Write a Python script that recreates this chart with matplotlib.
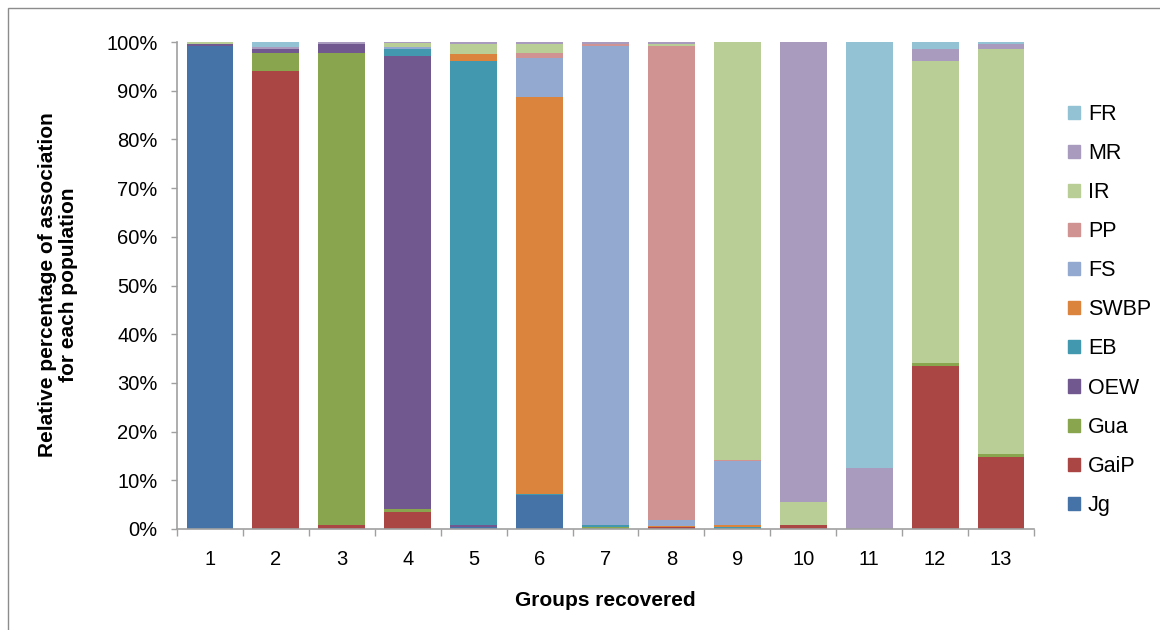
import numpy as np
import matplotlib
matplotlib.use("Agg")
import matplotlib.pyplot as plt
from matplotlib.patches import Rectangle, Patch
from matplotlib.ticker import PercentFormatter

plt.rcParams['font.family'] = ['Liberation Sans', 'DejaVu Sans']

# groups recovered
groups = ['1', '2', '3', '4', '5', '6', '7', '8', '9', '10', '11', '12', '13']

# relative percentage of each population, stacked bottom -> top
Jg   = [99.2, 0, 0, 0, 0.4, 7.0, 0, 0, 0, 0, 0, 0, 0]
GaiP = [0, 94.0, 0.8, 3.5, 0, 0, 0, 0.4, 0, 0.8, 0, 33.5, 14.8]
Gua  = [0, 3.7, 96.9, 0.6, 0, 0, 0.4, 0, 0, 0, 0, 0.5, 0.6]
OEW  = [0.4, 0.8, 1.8, 93.0, 0.4, 0, 0, 0, 0, 0, 0, 0, 0]
EB   = [0, 0, 0, 1.5, 95.3, 0.2, 0.4, 0, 0.4, 0, 0, 0, 0]
SWBP = [0, 0, 0, 0, 1.4, 81.5, 0, 0.2, 0.4, 0, 0, 0, 0]
FS   = [0, 0, 0, 0.3, 0, 8.1, 98.4, 1.2, 13.2, 0, 0, 0, 0]
PP   = [0, 0, 0, 0, 0, 1.0, 0.4, 97.4, 0.2, 0, 0, 0, 0]
IR   = [0.4, 0, 0, 0.8, 2.1, 1.8, 0, 0.4, 85.8, 4.7, 0, 62.1, 83.2]
MR   = [0, 0.4, 0.5, 0.4, 0.4, 0.4, 0.4, 0.4, 0, 94.5, 12.5, 2.5, 1.0]
FR   = [0, 1.0, 0, 0, 0, 0, 0, 0, 0, 0, 87.5, 1.4, 0.4]

names = ['Jg', 'GaiP', 'Gua', 'OEW', 'EB', 'SWBP', 'FS', 'PP', 'IR', 'MR', 'FR']
series = [Jg, GaiP, Gua, OEW, EB, SWBP, FS, PP, IR, MR, FR]
colors = ['#4572A7', '#AA4643', '#89A54E', '#71588F', '#4198AF', '#DB843D',
          '#93A9CF', '#D19392', '#B9CD96', '#A99BBD', '#92C2D3']

W, H = 1160, 630
fig = plt.figure(figsize=(W / 100, H / 100), dpi=100)
ax = fig.add_axes([177 / W, 1 - 529 / H, (1034 - 177) / W, (529 - 42) / H])

x = np.arange(1, len(groups) + 1)
bottom = np.zeros(len(groups))
for name, vals, c in zip(names, series, colors):
    v = np.array(vals, dtype=float)
    ax.bar(x, v, 0.71, bottom=bottom, color=c, linewidth=0, label=name)
    bottom += v

ax.set_xlim(0.5, len(groups) + 0.5)
ax.set_ylim(0, 100)
ax.set_yticks(np.arange(0, 101, 10))
ax.yaxis.set_major_formatter(PercentFormatter(decimals=0))
ax.set_xticks(x)
ax.set_xticklabels(groups)
ax.set_xticks(np.arange(0.5, len(groups) + 1, 1), minor=True)

gray = '#A0A0A0'
for s in ['top', 'right']:
    ax.spines[s].set_visible(False)
for s in ['left', 'bottom']:
    ax.spines[s].set_color(gray)
    ax.spines[s].set_linewidth(1.2)
ax.tick_params(axis='y', direction='out', length=4, width=1, color=gray,
               labelsize=14.5, pad=10)
ax.tick_params(axis='x', which='major', length=0, labelsize=14.5, pad=15)
ax.tick_params(axis='x', which='minor', direction='out', length=5, width=1,
               color=gray)

fig.text(58 / W, 1 - 285 / H, 'Relative percentage of association\nfor each population',
         rotation=90, ha='center', va='center', multialignment='center',
         fontsize=15, fontweight='bold', linespacing=1.1)
fig.text(605 / W, 1 - 601 / H, 'Groups recovered', ha='center', va='center',
         fontsize=15, fontweight='bold')

handles = [Patch(color=c, label=n) for n, c in zip(names, colors)][::-1]
fig.legend(handles=handles, loc='upper left', bbox_to_anchor=(1068 / W, 1 - 104 / H),
           frameon=False, fontsize=15.5, handlelength=0.56, handleheight=0.56,
           handletextpad=0.37, labelspacing=0.84, borderpad=0, borderaxespad=0)

# chart area border
fig.patches.append(Rectangle((8 / W, -0.1), 1.2, 1 - 8 / H + 0.1,
                             transform=fig.transFigure, fill=False,
                             edgecolor='#8C8C8C', linewidth=1))

fig.savefig('out.png', dpi=100)
